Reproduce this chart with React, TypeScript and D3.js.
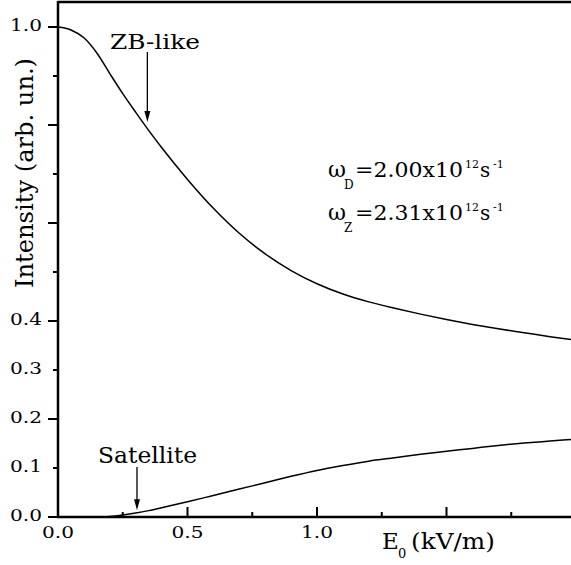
import React from 'react';
import * as d3 from 'd3';

// ZB-like curve
const zbX = [0, 0.05, 0.1, 0.15, 0.2, 0.25, 0.3, 0.35, 0.4, 0.5, 0.6, 0.7, 0.8, 0.9, 1.0, 1.1, 1.2, 1.3, 1.4, 1.5, 1.6, 1.7, 1.8, 1.9, 2.0];
const zbY = [1.0, 0.994, 0.978, 0.947, 0.905, 0.864, 0.826, 0.789, 0.754, 0.689, 0.630, 0.579, 0.537, 0.503, 0.476, 0.455, 0.439, 0.426, 0.414, 0.403, 0.393, 0.384, 0.376, 0.368, 0.361];

// Satellite curve
const satX = [0.17, 0.2, 0.25, 0.3, 0.35, 0.4, 0.5, 0.6, 0.7, 0.8, 0.9, 1.0, 1.1, 1.2, 1.3, 1.4, 1.5, 1.6, 1.7, 1.8, 1.9, 2.0];
const satY = [0.0, 0.001, 0.004, 0.008, 0.013, 0.019, 0.031, 0.044, 0.057, 0.070, 0.083, 0.095, 0.105, 0.114, 0.121, 0.128, 0.134, 0.140, 0.146, 0.151, 0.155, 0.159];

const yTicks = [0, 0.1, 0.2, 0.3, 0.4, 0.5, 0.6, 0.7, 0.8, 0.9, 1.0];
const yMajor = [0, 0.2, 0.4, 0.6, 0.8, 1.0];
const yLabelValues = [0, 0.1, 0.2, 0.3, 0.4, 1.0];
const yLabelTexts = ['0.0', '0.1', '0.2', '0.3', '0.4', '1.0'];

const xTicks = [0, 0.25, 0.5, 0.75, 1.0, 1.25, 1.5, 1.75, 2.0];
const xMajor = [0, 0.5, 1.0, 1.5, 2.0];
const xLabelValues = [0, 0.5, 1.0];
const xLabelTexts = ['0.0', '0.5', '1.0'];

const W = 571;
const H = 565;
const FONT = '"DejaVu Serif", "Liberation Serif", serif';

export default function App() {
  const x = d3.scaleLinear().domain([0, 2]).range([58, 576]);
  const y = d3.scaleLinear().domain([0, 1]).range([517, 27]);
  const line = d3
    .line<[number, number]>()
    .x((d) => x(d[0]))
    .y((d) => y(d[1]))
    .curve(d3.curveMonotoneX);
  const zbPath = line(zbX.map((v, i) => [v, zbY[i]]) as [number, number][]) || '';
  const satPath = line(satX.map((v, i) => [v, satY[i]]) as [number, number][]) || '';

  const arrow = (ax: number, y0: number, y1: number) => {
    const px = x(ax);
    const pTop = y(y0);
    const pTip = y(y1);
    return (
      <g>
        <line x1={px} x2={px} y1={pTop} y2={pTip - 8} stroke="#000" strokeWidth={1.3} />
        <path d={`M${px - 3},${pTip - 11} L${px + 3},${pTip - 11} L${px},${pTip} Z`} fill="#000" />
      </g>
    );
  };

  return (
    <svg width={W} height={H} style={{ position: 'absolute', left: 0, top: 0, background: '#fff' }} fontFamily={FONT}>
      <rect x={0} y={0} width={W} height={H} fill="#fff" />
      {/* frame */}
      <line x1={58} x2={W} y1={2} y2={2} stroke="#000" strokeWidth={2.5} />
      <line x1={58} x2={58} y1={1} y2={518} stroke="#000" strokeWidth={2.5} />
      <line x1={57} x2={W} y1={517} y2={517} stroke="#000" strokeWidth={2.5} />

      {/* y ticks */}
      {yTicks.map((t) => {
        const major = yMajor.some((m) => Math.abs(m - t) < 1e-9);
        return (
          <line key={'yt' + t} x1={major ? 48 : 53} x2={58} y1={y(t)} y2={y(t)} stroke="#000" strokeWidth={2} />
        );
      })}
      {yLabelValues.map((v, i) => (
        <text
          key={'yl' + v}
          x={42}
          y={y(v) + 3.5}
          textAnchor="end"
          fontSize={16}
          textLength={32}
          lengthAdjust="spacingAndGlyphs"
          fill="#000"
        >
          {yLabelTexts[i]}
        </text>
      ))}

      {/* x ticks */}
      {xTicks.map((t) => {
        const major = xMajor.some((m) => Math.abs(m - t) < 1e-9);
        return (
          <line key={'xt' + t} x1={x(t)} x2={x(t)} y1={517} y2={major ? 507 : 512} stroke="#000" strokeWidth={2} />
        );
      })}
      {xLabelValues.map((v, i) => (
        <text
          key={'xl' + v}
          x={x(v) - 16}
          y={538}
          fontSize={16}
          textLength={32}
          lengthAdjust="spacingAndGlyphs"
          fill="#000"
        >
          {xLabelTexts[i]}
        </text>
      ))}

      {/* curves */}
      <path d={zbPath} fill="none" stroke="#000" strokeWidth={1.5} />
      <path d={satPath} fill="none" stroke="#000" strokeWidth={1.5} />

      {/* annotations */}
      <text x={110} y={49} fontSize={21} textLength={90} lengthAdjust="spacingAndGlyphs" fill="#000">ZB-like</text>
      {arrow(0.345, 0.949, 0.806)}
      <text x={98} y={463} fontSize={22} textLength={99} lengthAdjust="spacingAndGlyphs" fill="#000">Satellite</text>
      {arrow(0.305, 0.102, 0.014)}

      {/* omega labels */}
      <text x={328} y={177} fontSize={22} fill="#000">ω</text>
      <text x={344} y={189} fontSize={12} fill="#000">D</text>
      <text x={355} y={177} fontSize={20} textLength={108} lengthAdjust="spacingAndGlyphs" fill="#000">=2.00x10</text>
      <text x={465} y={168} fontSize={11} fill="#000">12</text>
      <text x={480} y={177} fontSize={20} fill="#000">s</text>
      <text x={493} y={168} fontSize={11} fill="#000">-1</text>

      <text x={328} y={220} fontSize={22} fill="#000">ω</text>
      <text x={344} y={232} fontSize={12} fill="#000">Z</text>
      <text x={355} y={220} fontSize={20} textLength={108} lengthAdjust="spacingAndGlyphs" fill="#000">=2.31x10</text>
      <text x={465} y={211} fontSize={11} fill="#000">12</text>
      <text x={480} y={220} fontSize={20} fill="#000">s</text>
      <text x={493} y={211} fontSize={11} fill="#000">-1</text>

      {/* axis titles */}
      <text x={382} y={549} fontSize={23} fill="#000">E</text>
      <text x={398} y={558} fontSize={13} fill="#000">0</text>
      <text x={411} y={549} fontSize={23} textLength={84} lengthAdjust="spacingAndGlyphs" fill="#000">(kV/m)</text>

      <text
        transform="translate(33,173) rotate(-90)"
        textAnchor="middle"
        fontSize={24}
        textLength={230}
        lengthAdjust="spacingAndGlyphs"
        fill="#000"
      >
        Intensity (arb. un.)
      </text>
    </svg>
  );
}
